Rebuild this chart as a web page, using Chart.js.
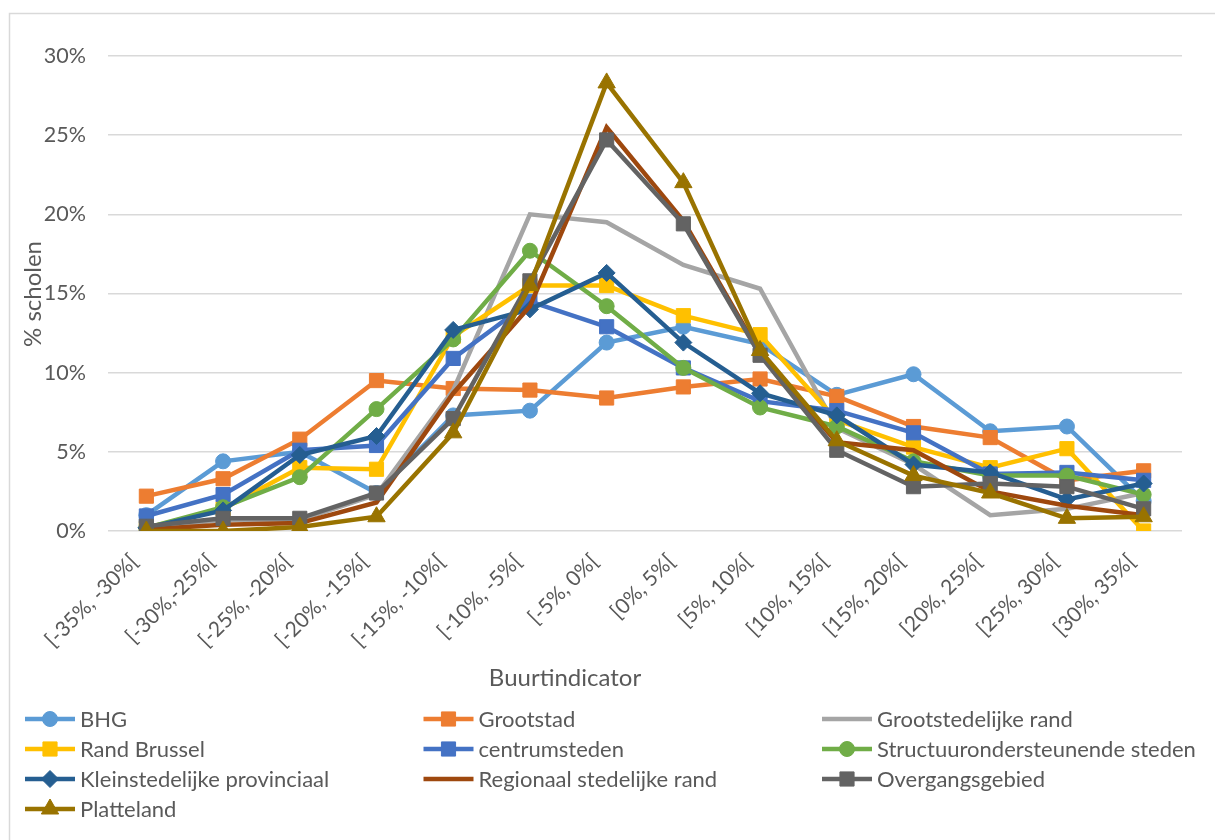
<!DOCTYPE html>
<html>
<head>
<meta charset="utf-8">
<script src="https://cdn.jsdelivr.net/npm/chart.js@4/dist/chart.umd.min.js"></script>
<style>
  html, body { margin: 0; padding: 0; background: #ffffff; }
  #wrap { width: 1215px; height: 840px; position: relative; }
</style>
</head>
<body>
<div id="wrap"><canvas id="chart" width="1215" height="840"></canvas></div>
<script>
// Bins of the neighbourhood indicator
const categories = ["[-35%, -30%[", "[-30%,-25%[", "[-25%, -20%[", "[-20%, -15%[", "[-15%, -10%[",
  "[-10%, -5%[", "[-5%, 0%[", "[0%, 5%[", "[5%, 10%[", "[10%, 15%[", "[15%, 20%[",
  "[20%, 25%[", "[25%, 30%[", "[30%, 35%["];

// Share of schools (%) per region type
const bhg             = [1.0, 4.4, 5.0, 2.4, 7.3, 7.6, 11.9, 12.9, 11.8, 8.6, 9.9, 6.3, 6.6, 1.9];
const grootstad       = [2.2, 3.3, 5.8, 9.5, 9.0, 8.9, 8.4, 9.1, 9.6, 8.5, 6.6, 5.9, 3.2, 3.8];
const grootstedRand   = [0.2, 0.7, 0.7, 2.3, 8.9, 20.0, 19.5, 16.8, 15.3, 6.5, 4.2, 1.0, 1.4, 2.4];
const randBrussel     = [0.2, 1.4, 4.0, 3.9, 12.3, 15.5, 15.5, 13.6, 12.4, 7.0, 5.3, 4.0, 5.2, 0.0];
const centrumsteden   = [0.95, 2.3, 5.1, 5.4, 10.9, 14.5, 12.9, 10.3, 8.2, 7.6, 6.2, 3.6, 3.7, 3.2];
const structuur       = [0.2, 1.5, 3.4, 7.7, 12.1, 17.7, 14.2, 10.3, 7.8, 6.6, 4.4, 3.5, 3.5, 2.3];
const kleinstedelijk  = [0.2, 1.3, 4.8, 6.0, 12.7, 14.0, 16.3, 11.9, 8.7, 7.3, 4.2, 3.7, 2.0, 3.0];
const regionaalRand   = [0.1, 0.4, 0.5, 1.8, 8.7, 14.2, 25.5, 19.6, 11.2, 5.6, 5.1, 2.5, 1.6, 1.0];
const overgang        = [0.3, 0.8, 0.8, 2.4, 7.1, 15.8, 24.7, 19.4, 11.1, 5.1, 2.8, 3.0, 2.8, 1.4];
const platteland      = [0.0, 0.0, 0.25, 0.9, 6.2, 15.5, 28.3, 22.0, 11.4, 5.7, 3.5, 2.4, 0.8, 0.9];

const seriesNames = ["BHG", "Grootstad", "Grootstedelijke rand", "Rand Brussel", "centrumsteden",
  "Structuurondersteunende steden", "Kleinstedelijke provinciaal", "Regionaal stedelijke rand",
  "Overgangsgebied", "Platteland"];
const seriesValues = [bhg, grootstad, grootstedRand, randBrussel, centrumsteden, structuur,
  kleinstedelijk, regionaalRand, overgang, platteland];
const seriesColors = ["#5B9BD5", "#ED7D31", "#A5A5A5", "#FFC000", "#4472C4", "#70AD47",
  "#255E91", "#9E480E", "#636363", "#997300"];
const seriesMarkers = ["circle", "rect", null, "rect", "rect", "circle", "rectRot", null, "rect", "triangle"];

const yTicks = [0, 5, 10, 15, 20, 25, 30];

const FONT = "Lato, 'Open Sans', sans-serif";
const TEXT = "#595959";
const markerRadius = { circle: 7.5, rect: 10, rectRot: 8.5, triangle: 10 };

const datasets = seriesNames.map((name, i) => {
  const m = seriesMarkers[i];
  return {
    label: name,
    data: seriesValues[i],
    borderColor: seriesColors[i],
    backgroundColor: seriesColors[i],
    borderWidth: 4.5,
    pointStyle: m || 'circle',
    pointRadius: m ? markerRadius[m] : 0,
    pointHoverRadius: m ? markerRadius[m] : 0,
    pointBorderWidth: 1,
    pointBorderColor: seriesColors[i],
    pointBackgroundColor: seriesColors[i],
    tension: 0,
    fill: false,
    order: seriesNames.length - i
  };
});

function drawMarker(ctx, style, r, x, y) {
  ctx.beginPath();
  if (style === 'circle') {
    ctx.arc(x, y, r, 0, Math.PI * 2);
  } else if (style === 'rect') {
    const s = Math.SQRT1_2 * r;
    ctx.rect(x - s, y - s, 2 * s, 2 * s);
  } else if (style === 'rectRot') {
    ctx.moveTo(x, y - r); ctx.lineTo(x + r, y); ctx.lineTo(x, y + r); ctx.lineTo(x - r, y);
    ctx.closePath();
  } else if (style === 'triangle') {
    const a = Math.PI * 2 / 3;
    ctx.moveTo(x, y - r);
    ctx.lineTo(x + Math.sin(a) * r, y - Math.cos(a) * r);
    ctx.lineTo(x + Math.sin(2 * a) * r, y - Math.cos(2 * a) * r);
    ctx.closePath();
  }
  ctx.fill();
  ctx.stroke();
}

// Frame, axis titles and a three-column legend
const decorations = {
  id: 'decorations',
  beforeDraw(chart) {
    const ctx = chart.ctx;
    ctx.save();
    ctx.fillStyle = '#ffffff';
    ctx.fillRect(0, 0, chart.width, chart.height);
    ctx.strokeStyle = '#D9D9D9';
    ctx.lineWidth = 1.5;
    ctx.strokeRect(9.5, 13.5, chart.width + 10, chart.height + 10);
    ctx.restore();
  },
  afterDraw(chart) {
    const ctx = chart.ctx;
    ctx.save();
    ctx.fillStyle = TEXT;
    ctx.font = "24px " + FONT;
    ctx.textAlign = 'center';
    ctx.textBaseline = 'middle';
    ctx.fillText("Buurtindicator", 565, 678);
    ctx.save();
    ctx.translate(33, 294);
    ctx.rotate(-Math.PI / 2);
    ctx.fillText("% scholen", 0, 0);
    ctx.restore();

    ctx.font = "22px " + FONT;
    ctx.textAlign = 'left';
    chart.data.datasets.forEach((ds, i) => {
      const col = i % 3, row = Math.floor(i / 3);
      const x0 = 25 + col * 398.5;
      const y = 719 + row * 30;
      ctx.strokeStyle = ds.borderColor;
      ctx.fillStyle = ds.borderColor;
      ctx.lineWidth = 4.5;
      ctx.beginPath();
      ctx.moveTo(x0, y);
      ctx.lineTo(x0 + 50, y);
      ctx.stroke();
      const m = seriesMarkers[i];
      if (m) {
        ctx.lineWidth = 1;
        drawMarker(ctx, m, markerRadius[m], x0 + 25, y);
      }
      ctx.fillStyle = TEXT;
      ctx.fillText(ds.label, x0 + 55, y + 1);
    });
    ctx.restore();
  }
};

new Chart(document.getElementById('chart'), {
  type: 'line',
  data: { labels: categories, datasets },
  options: {
    responsive: false,
    animation: false,
    events: [],
    layout: { padding: { top: 56, right: 33, bottom: 149, left: 0 } },
    plugins: {
      legend: { display: false },
      tooltip: { enabled: false },
      title: { display: false }
    },
    scales: {
      x: {
        offset: true,
        grid: { display: false },
        border: { display: false },
        ticks: {
          color: TEXT,
          font: { family: FONT, size: 21 },
          minRotation: 45,
          maxRotation: 45,
          autoSkip: false,
          labelOffset: -12,
          padding: 10
        },
        afterFit(scale) { scale.height = 160; }
      },
      y: {
        min: 0,
        max: 30,
        afterBuildTicks(scale) { scale.ticks = yTicks.map(v => ({ value: v })); },
        grid: { color: '#D9D9D9', lineWidth: 1.5, drawTicks: false },
        border: { display: false },
        ticks: {
          color: TEXT,
          font: { family: FONT, size: 21.5 },
          padding: 22,
          callback: v => v + '%'
        },
        afterFit(scale) { scale.width = 108; }
      }
    }
  },
  plugins: [decorations]
});
</script>
</body>
</html>
